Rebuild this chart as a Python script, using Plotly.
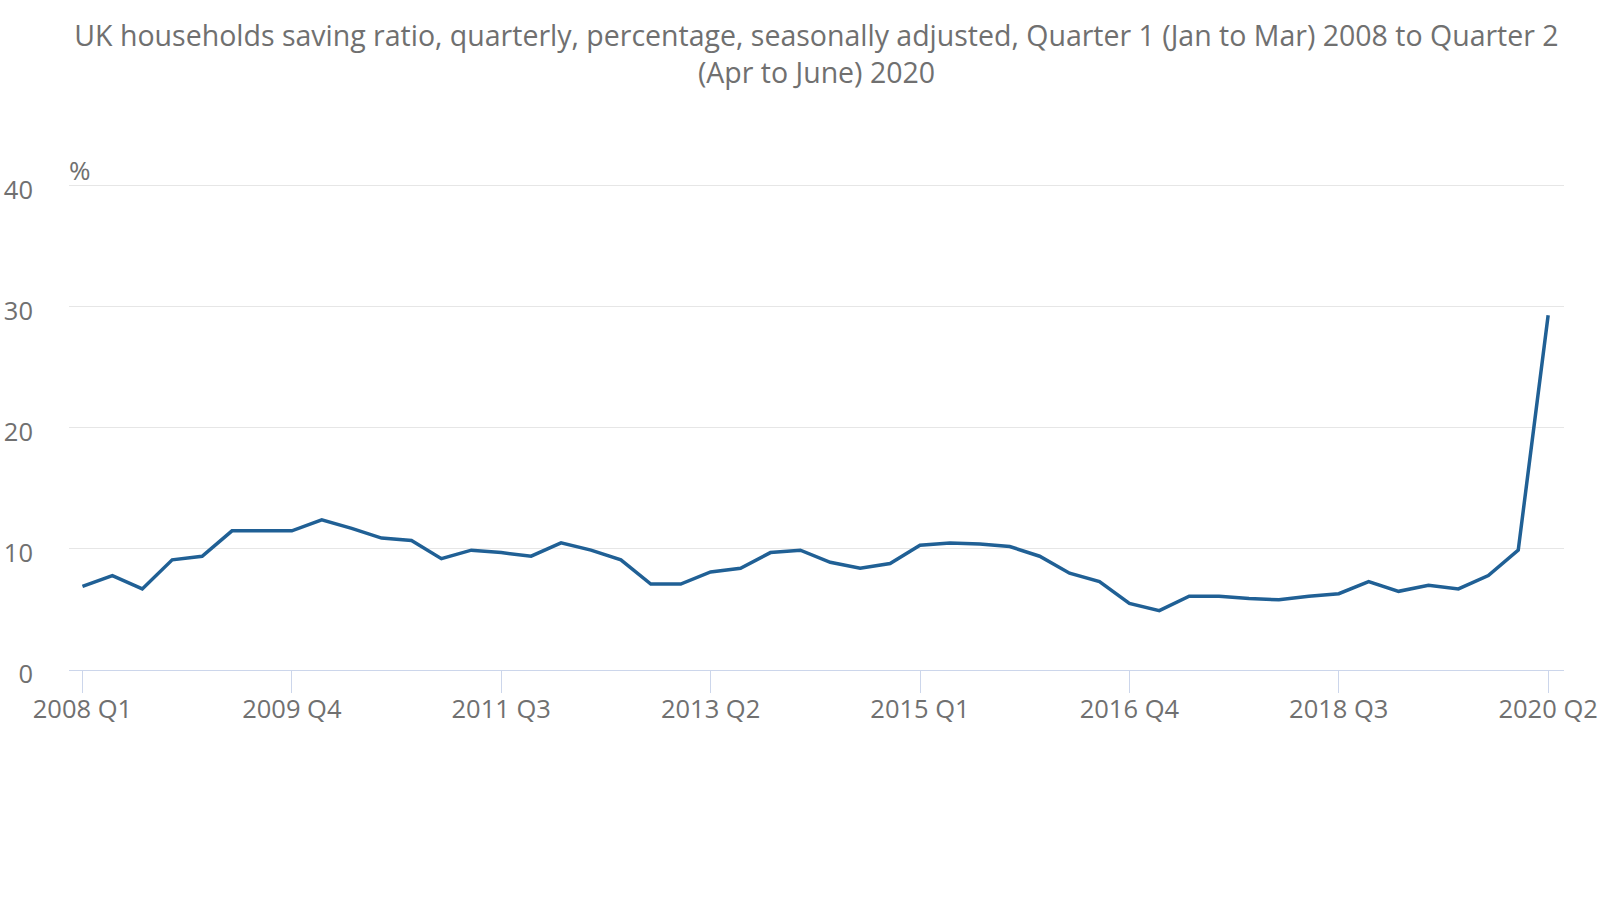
import plotly.graph_objects as go

quarters = [f"{y} Q{q}" for y in range(2008, 2021) for q in range(1, 5)][:50]
saving_ratio = [
    6.9, 7.8, 6.7, 9.1,     # 2008
    9.4, 11.5, 11.5, 11.5,  # 2009
    12.4, 11.7, 10.9, 10.7, # 2010
    9.2, 9.9, 9.7, 9.4,     # 2011
    10.5, 9.9, 9.1, 7.1,    # 2012
    7.1, 8.1, 8.4, 9.7,     # 2013
    9.9, 8.9, 8.4, 8.8,     # 2014
    10.3, 10.5, 10.4, 10.2, # 2015
    9.4, 8.0, 7.3, 5.5,     # 2016
    4.9, 6.1, 6.1, 5.9,     # 2017
    5.8, 6.1, 6.3, 7.3,     # 2018
    6.5, 7.0, 6.7, 7.8,     # 2019
    9.9, 29.3,              # 2020
]
x_ticks = ["2008 Q1", "2009 Q4", "2011 Q3", "2013 Q2", "2015 Q1", "2016 Q4", "2018 Q3", "2020 Q2"]
y_ticks = [0, 10, 20, 30, 40]

TEXT = "#707070"
FONT = "Open Sans"

fig = go.Figure()
fig.add_trace(go.Scatter(
    x=quarters, y=saving_ratio, mode="lines",
    line=dict(color="#206095", width=3.5),
    hoverinfo="x+y",
))

fig.update_layout(
    width=1600, height=900,
    paper_bgcolor="white", plot_bgcolor="white",
    margin=dict(l=69, r=36, t=184, b=230),
    showlegend=False,
    font=dict(family=FONT, color=TEXT, size=25),
    title=dict(
        text="UK households saving ratio, quarterly, percentage, seasonally adjusted, Quarter 1 (Jan to Mar) 2008 to Quarter 2<br>(Apr to June) 2020",
        x=0.5, xref="paper", xanchor="center",
        y=1 - 46 / 900, yref="container", yanchor="top",
        font=dict(family=FONT, size=28.5, color=TEXT),
    ),
    xaxis=dict(
        type="category",
        range=[-0.45, 49.53],
        tickmode="array", tickvals=x_ticks, ticktext=x_ticks,
        showgrid=False,
        showline=True, linecolor="#ccd6eb", linewidth=1,
        ticks="outside", ticklen=22, tickcolor="#ccd6eb", tickwidth=1,
        ticklabelstandoff=-6,
        tickfont=dict(family=FONT, size=25.5, color=TEXT),
        zeroline=False, automargin=False,
    ),
    yaxis=dict(
        range=[0, 40.15],
        tickmode="array", tickvals=y_ticks,
        showgrid=True, gridcolor="#e6e6e6", gridwidth=1,
        zeroline=False, showline=False,
        ticks="", ticklabelstandoff=35, ticklabelshift=4,
        tickfont=dict(family=FONT, size=25.5, color=TEXT),
        automargin=False,
    ),
    annotations=[dict(
        text="%", xref="paper", yref="paper", x=0, y=1,
        xanchor="left", yanchor="bottom", xshift=-2, yshift=-6, showarrow=False,
        font=dict(family=FONT, size=26, color=TEXT),
    )],
)

fig.write_html("out.html")
